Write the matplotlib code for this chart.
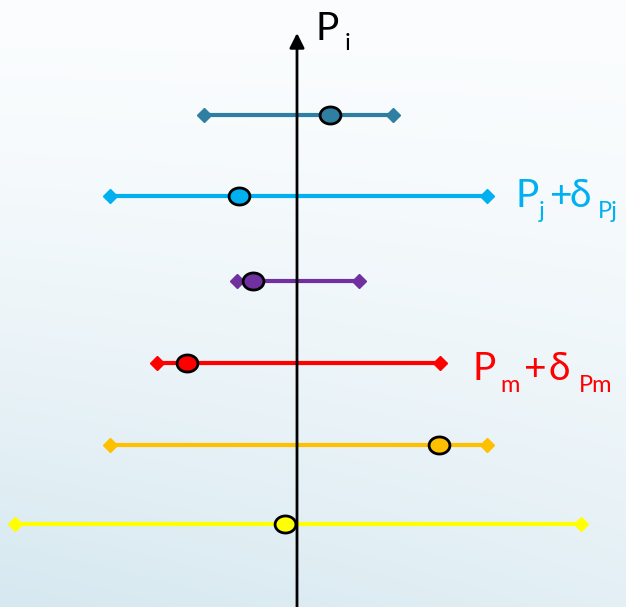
from matplotlib import pyplot as plt
from matplotlib.path import Path
import numpy as np

# 每个区间: 纵向位置, 左端, 右端, 估计值 (像素坐标)
rows = [115, 196, 281, 363, 445, 524]
lows = [204, 110, 237, 157, 110, 15]
highs = [393, 487, 359, 440, 487, 581]
centers = [330, 239, 253, 187, 439, 285]
colors = ['#2E7FA2', '#00B0F0', '#7030A0', '#FF0000', '#FFC000', '#FFFF00']

axis_x = 297

# 标注: (文字, 中心 x, 基线 y, 是否下标)
label_i = [('P', 327, 40, False), ('i', 348, 50, True)]
label_j = [('P', 527, 207, False), ('j', 542, 218, True), ('+', 561, 207, False),
           ('δ', 580, 207, False), ('Pj', 608, 218, True)]
label_m = [('P', 484, 380, False), ('m', 510, 392, True), ('+', 535, 380, False),
           ('δ', 559, 380, False), ('Pm', 596, 392, True)]

plt.rcParams['font.family'] = ['Lato', 'DejaVu Sans']

fig = plt.figure(figsize=(6.26, 6.07), dpi=100)
ax = fig.add_axes([0, 0, 1, 1])
ax.set_xlim(0, 626)
ax.set_ylim(607, 0)
ax.axis('off')

# 背景渐变 (上白下浅蓝, 左下略深)
yy, xx = np.mgrid[0:1:256j, 0:1:256j]
k = (yy ** 1.4) * (1.0 - 0.35 * xx)
top = np.array([251, 253, 254]) / 255
bottom = np.array([214, 232, 240]) / 255
img = top + (bottom - top) * k[:, :, None]
ax.imshow(img, extent=(0, 626, 607, 0), aspect='auto', zorder=0)

# 纵轴
ax.annotate('', xy=(axis_x, 33), xytext=(axis_x, 607),
            arrowprops=dict(arrowstyle='-|>', lw=2, color='black', mutation_scale=22,
                            shrinkA=0, shrinkB=0), zorder=3)

# 椭圆形标记
t = np.linspace(0, 2 * np.pi, 60)
ellipse = Path(np.column_stack([np.cos(t), 0.82 * np.sin(t)]), closed=True)

for y, lo, hi, c, col in zip(rows, lows, highs, centers, colors):
    ax.plot([lo, hi], [y, y], color=col, linewidth=3, zorder=2)
    ax.plot([lo, hi], [y, y], linestyle='none', marker='D', markersize=7.5,
            color=col, zorder=2)
    ax.plot(c, y, linestyle='none', marker=ellipse, markersize=15,
            markerfacecolor=col, markeredgecolor='black', markeredgewidth=2, zorder=4)

for pieces, col in [(label_i, 'black'), (label_j, '#00B0F0'), (label_m, '#FF0000')]:
    for s, x, y, sub in pieces:
        ax.text(x, y, s, fontsize=17 if sub else 28, color=col,
                ha='center', va='baseline', zorder=5)

plt.savefig('out.png', dpi=100)
